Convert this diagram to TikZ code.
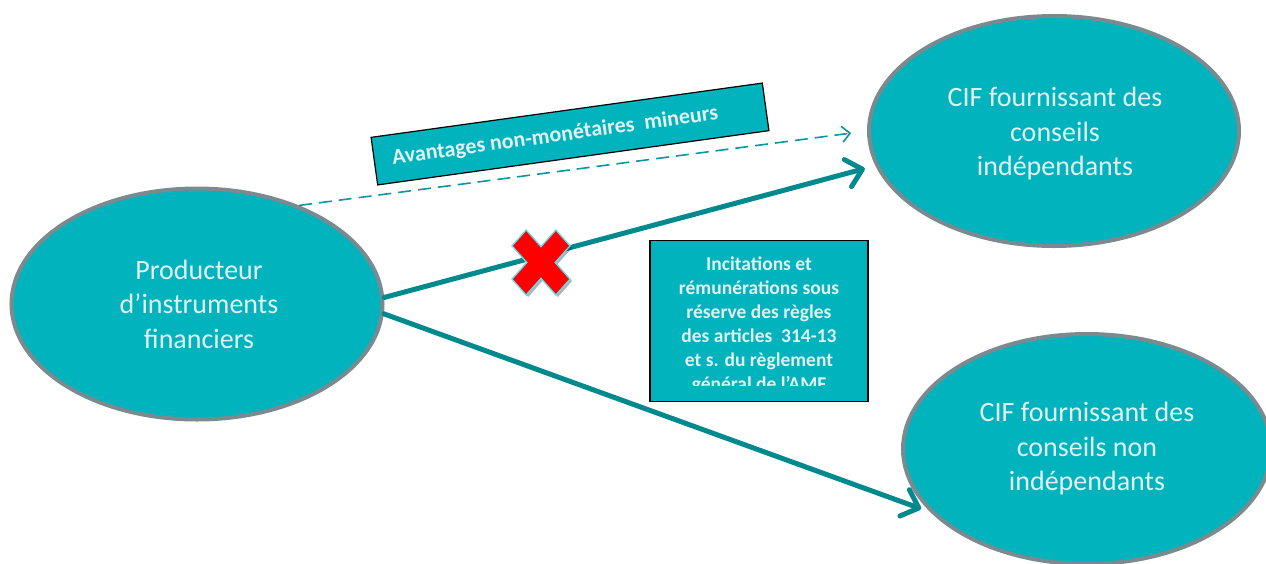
\documentclass[tikz,border=0pt]{standalone}
\usepackage{fontspec}
\setmainfont{Carlito}
\usetikzlibrary{arrows.meta,shapes.geometric,shadows}
\definecolor{tealfill}{RGB}{0,179,189}
\definecolor{ringgray}{RGB}{122,138,142}
\definecolor{arrowteal}{RGB}{0,138,142}
\definecolor{dashteal}{RGB}{10,150,158}
\definecolor{lighttext}{RGB}{226,243,243}
\definecolor{crossred}{RGB}{255,0,0}
\definecolor{crosscyan}{RGB}{90,225,240}
\begin{document}
\begin{tikzpicture}[x=1pt,y=-1pt,
  bubble/.style={ellipse, draw=ringgray, line width=4pt, fill=tealfill, inner sep=0pt},
  bubtext/.style={text=lighttext, font=\fontsize{28}{34.5}\selectfont, align=center, inner sep=0pt},
  bigarrow/.style={draw=arrowteal, line width=5pt, line cap=round, -{Straight Barb[length=15pt,width=28pt,round]}},
  dasharrow/.style={draw=dashteal, line width=1.6pt, dash pattern=on 13pt off 7pt, -{Straight Barb[length=8pt,width=16pt]}},
  labelbox/.style={draw=black, line width=1.2pt, fill=tealfill, minimum width=395pt, minimum height=48pt, inner sep=0pt, text=lighttext, font=\bfseries\fontsize{22}{26}\selectfont},
  infobox/.style={draw=black, line width=1.5pt, fill=tealfill, minimum width=218pt, minimum height=161pt, inner sep=0pt},
  infotext/.style={text=lighttext, font=\bfseries\fontsize{19.5}{24.1}\selectfont, align=center, inner sep=0pt}
]
\useasboundingbox (0,0) rectangle (1266,563);

% ellipses
\node[bubble, minimum width=371pt, minimum height=231pt] (prod) at (197,304) {};
\node[bubble, minimum width=370pt, minimum height=230pt] (cif1) at (1054,131) {};
\node[bubble, minimum width=368pt, minimum height=230pt] (cif2) at (1087,449) {};

\node[bubtext] (prodtext) at (199,304) {Producteur\\d’instruments\\financiers};
\node[bubtext] (cif1text) at (1055,134) {CIF fournissant des\\conseils\\indépendants};
\node[bubtext] (cif2text) at (1087,449) {CIF fournissant des\\conseils non\\indépendants};

% connectors
\draw[dasharrow, shorten >=16pt] (prod.44) -- (cif1.west);
\draw[bigarrow, shorten >=11pt] (prod.2) -- (cif1.191);
\draw[bigarrow, shorten >=10pt] (prod.-3) -- (cif2.202);

% rotated label
\node[labelbox, rotate=7.9] (avant) at (570,134) {\raisebox{-6pt}{Avantages non-monétaires\ \ mineurs}\hspace*{30pt}};

% info box
\node[infobox] (rules) at (759,321) {};
\begin{scope}
  \clip (rules.north west) rectangle ([yshift=17pt]rules.south east);
  \node[infotext, anchor=north] (rulestext) at (759,256.5) {Incitations et\\rémunérations sous\\réserve des règles\\des articles\ \ 314-13\\et s. du règlement\\général de l’AMF};
\end{scope}

% red cross
\begin{scope}[shift={(541,262.5)}, yscale=1.12, rotate=45]
  \path[fill=crossred, draw=crosscyan, line width=1.3pt, line join=miter,
        drop shadow={shadow xshift=2pt, shadow yshift=-2pt, opacity=0.3, fill=black}]
    (10,31) -- (10,10) -- (31,10) -- (31,-10) -- (10,-10) -- (10,-31) -- (-10,-31) -- (-10,-10)
    -- (-31,-10) -- (-31,10) -- (-10,10) -- (-10,31) -- cycle;
\end{scope}
\end{tikzpicture}
\end{document}
